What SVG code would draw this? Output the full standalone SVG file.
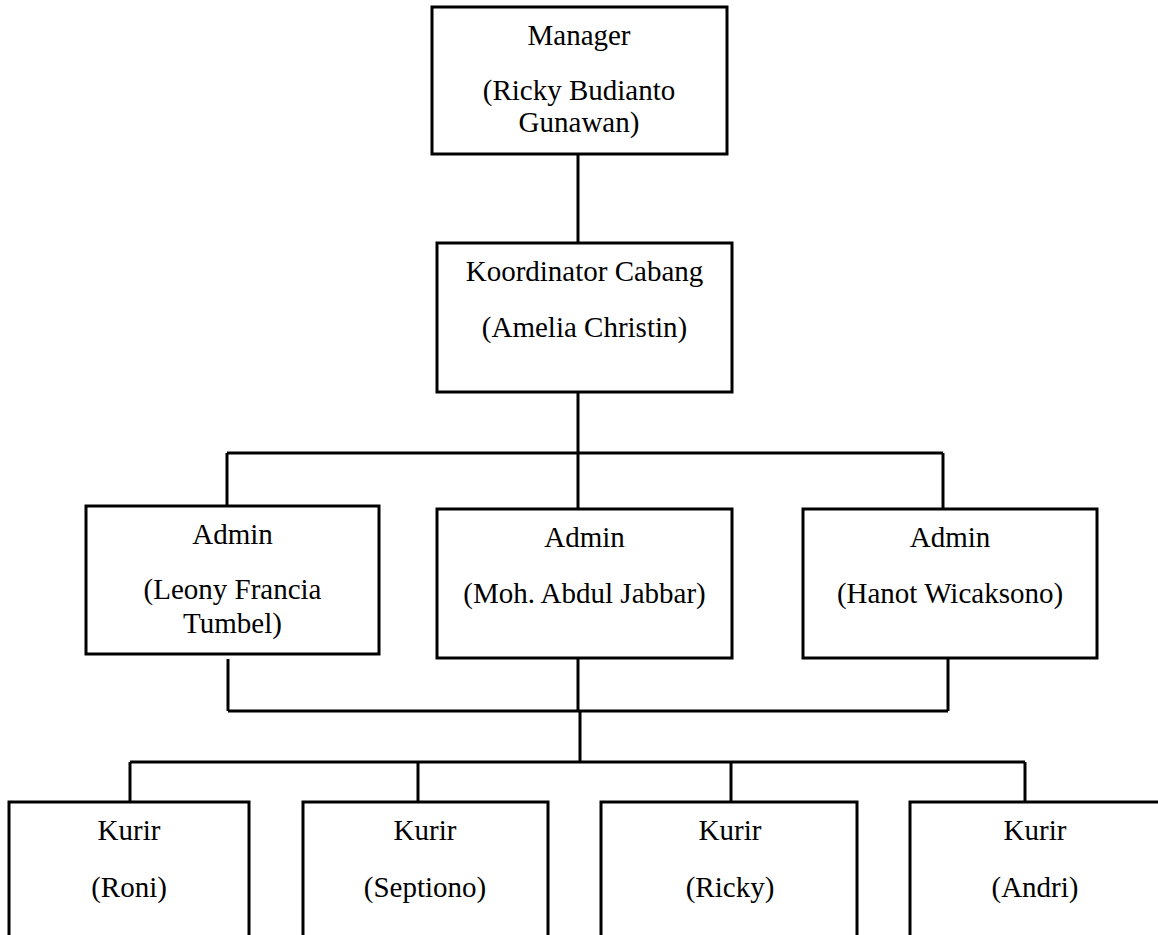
<svg xmlns="http://www.w3.org/2000/svg" width="1158" height="935" viewBox="0 0 1158 935">
<style>
.box{fill:#fff;stroke:#000;stroke-width:3}
.ln{fill:none;stroke:#000;stroke-width:3}
text{font-family:"Liberation Serif","Times New Roman",serif;font-size:29px;fill:#000;text-anchor:middle}
</style>
<rect width="1158" height="935" fill="#fff"/>
<g id="connectors">
<path class="ln" d="M578,154 V243"/>
<path class="ln" d="M578,392 V453"/>
<path class="ln" d="M227,453 H943"/>
<path class="ln" d="M227,453 V506"/>
<path class="ln" d="M578,453 V509"/>
<path class="ln" d="M943,453 V509"/>
<path class="ln" d="M228,659 V711"/>
<path class="ln" d="M578,658 V711"/>
<path class="ln" d="M948,655 V711"/>
<path class="ln" d="M228,711 H948"/>
<path class="ln" d="M580,711 V762"/>
<path class="ln" d="M130,762 H1025"/>
<path class="ln" d="M130,762 V802"/>
<path class="ln" d="M418,762 V802"/>
<path class="ln" d="M731,762 V802"/>
<path class="ln" d="M1025,762 V802"/>
</g>
<g id="manager">
<rect class="box" x="432" y="7" width="295" height="147"/>
<text x="579" y="45">Manager</text>
<text x="579" y="100">(Ricky Budianto</text>
<text x="579" y="132">Gunawan)</text>
</g>
<g id="koordinator">
<rect class="box" x="437" y="243" width="295" height="149"/>
<text x="584.5" y="281">Koordinator Cabang</text>
<text x="584.5" y="337">(Amelia Christin)</text>
</g>
<g id="admin-leony">
<rect class="box" x="86" y="506" width="293" height="148"/>
<text x="232.5" y="544">Admin</text>
<text x="232.5" y="599">(Leony Francia</text>
<text x="232.5" y="633">Tumbel)</text>
</g>
<g id="admin-moh">
<rect class="box" x="437" y="509" width="295" height="149"/>
<text x="584.5" y="547">Admin</text>
<text x="584.5" y="603">(Moh. Abdul Jabbar)</text>
</g>
<g id="admin-hanot">
<rect class="box" x="803" y="509" width="294" height="149"/>
<text x="950" y="547">Admin</text>
<text x="950" y="603">(Hanot Wicaksono)</text>
</g>
<g id="kurir-roni">
<rect class="box" x="9" y="802" width="240" height="200"/>
<text x="129" y="840">Kurir</text>
<text x="129" y="897">(Roni)</text>
</g>
<g id="kurir-septiono">
<rect class="box" x="303" y="802" width="245" height="200"/>
<text x="425" y="840">Kurir</text>
<text x="425" y="897">(Septiono)</text>
</g>
<g id="kurir-ricky">
<rect class="box" x="601" y="802" width="256" height="200"/>
<text x="730" y="840">Kurir</text>
<text x="730" y="897">(Ricky)</text>
</g>
<g id="kurir-andri">
<rect class="box" x="910" y="802" width="300" height="200"/>
<text x="1035" y="840">Kurir</text>
<text x="1035" y="897">(Andri)</text>
</g>
</svg>
